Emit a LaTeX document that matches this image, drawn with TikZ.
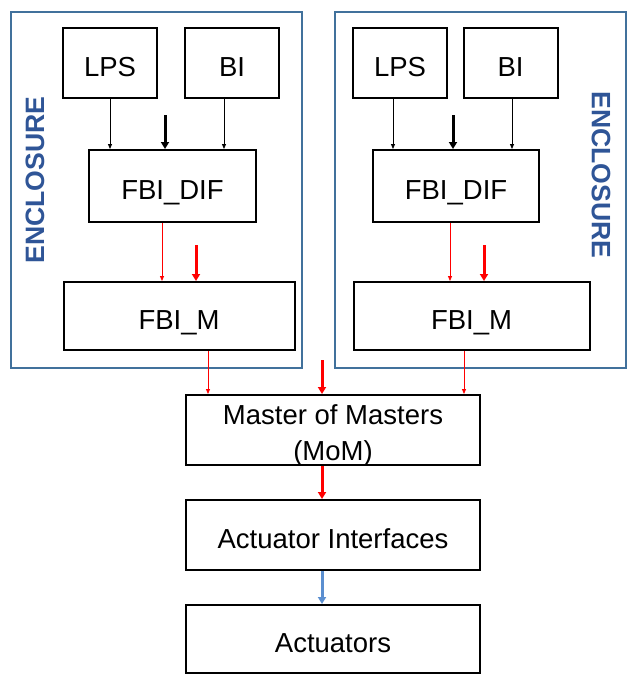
\documentclass[tikz,border=0pt]{standalone}
\usepackage{fontspec}
\setmainfont{Liberation Sans}
\usetikzlibrary{arrows.meta,positioning}

\definecolor{encblue}{HTML}{41719C}
\definecolor{enctext}{HTML}{2F5597}
\definecolor{sigred}{HTML}{FF0000}
\definecolor{actblue}{HTML}{5B8FD0}

\begin{document}
\begin{tikzpicture}[
    x=1pt, y=-1pt,
    every node/.style={font=\fontsize{27.5}{36}\selectfont},
    blk/.style={rectangle, draw, line width=2pt, inner sep=0pt,
                text height=26pt, text depth=0pt},
    enc/.style={rectangle, draw=encblue, line width=2pt, inner sep=0pt,
                minimum width=291pt, minimum height=356pt},
    enclbl/.style={font=\fontsize{26.6}{30}\selectfont\bfseries, text=enctext},
    thin/.style={-{Triangle[length=5pt,width=4pt]}, line width=0.8pt},
    thk/.style={-{Triangle[length=7pt,width=8pt]}, line width=3pt},
  ]
  \useasboundingbox (0,0) rectangle (627,675);
  % enclosures
  \node[enc] (encL) at (156,190) {};
  \node[enc] (encR) at (480,190) {};
  \node[enclbl, rotate=90] (lblL) at (35,180) {ENCLOSURE};
  \node[enclbl, rotate=-90] (lblR) at (601,175) {ENCLOSURE};
  % left side
  \node[blk, minimum width=94pt, minimum height=70pt] (lpsL) at (110,63) {LPS};
  \node[blk, minimum width=94pt, minimum height=70pt] (biL) at (232,63) {BI};
  \node[blk, minimum width=167pt, minimum height=72pt] (difL) at (172.5,186) {FBI\_DIF};
  \node[blk, minimum width=231pt, minimum height=68pt] (fbmL) at (179,316) {FBI\_M};
  % right side
  \node[blk, minimum width=94pt, minimum height=70pt] (lpsR) at (400,63) {LPS};
  \node[blk, minimum width=94pt, minimum height=70pt] (biR) at (510.5,63) {BI};
  \node[blk, minimum width=166pt, minimum height=72pt] (difR) at (456,186) {FBI\_DIF};
  \node[blk, minimum width=236pt, minimum height=68pt] (fbmR) at (471.5,316) {FBI\_M};
  % chain below
  \node[blk, minimum width=294pt, minimum height=70pt,
        label={[align=center, yshift=-5pt]center:Master of Masters\\(MoM)}] (mom) at (333,430) {};
  \node[blk, minimum width=294pt, minimum height=70pt] (aif) at (333,535) {Actuator Interfaces};
  \node[blk, minimum width=294pt, minimum height=68pt] (act) at (333,639) {Actuators};
  % free ends of the thick arrows
  \coordinate (inDifL) at (165,115);
  \coordinate (inFbmL) at (196,245);
  \coordinate (inDifR) at (453,115);
  \coordinate (inFbmR) at (484,245);
  \coordinate (inMom) at (322,360);

  \draw[thin] (lpsL.south) -- (lpsL.south |- difL.north);
  \draw[thin] ([xshift=-8pt]biL.south) -- ([xshift=-8pt]biL.south |- difL.north);
  \draw[thk] (inDifL) -- (inDifL |- difL.north);
  \draw[thin, sigred] ([xshift=-10.5pt]difL.south) -- ([xshift=-10.5pt]difL.south |- fbmL.north);
  \draw[thk, sigred] (inFbmL) -- (inFbmL |- fbmL.north);

  \draw[thin] ([xshift=-7pt]lpsR.south) -- ([xshift=-7pt]lpsR.south |- difR.north);
  \draw[thin] ([xshift=1.5pt]biR.south) -- ([xshift=1.5pt]biR.south |- difR.north);
  \draw[thk] (inDifR) -- (inDifR |- difR.north);
  \draw[thin, sigred] ([xshift=-6pt]difR.south) -- ([xshift=-6pt]difR.south |- fbmR.north);
  \draw[thk, sigred] (inFbmR) -- (inFbmR |- fbmR.north);

  \draw[thin, sigred] ([xshift=29pt]fbmL.south) -- ([xshift=29pt]fbmL.south |- mom.north);
  \draw[thin, sigred] ([xshift=-7.5pt]fbmR.south) -- ([xshift=-7.5pt]fbmR.south |- mom.north);
  \draw[thk, sigred] (inMom) -- (inMom |- mom.north);
  \draw[thk, sigred] (inMom |- mom.south) -- (inMom |- aif.north);
  \draw[thk, actblue] (inMom |- aif.south) -- (inMom |- act.north);
\end{tikzpicture}
\end{document}
